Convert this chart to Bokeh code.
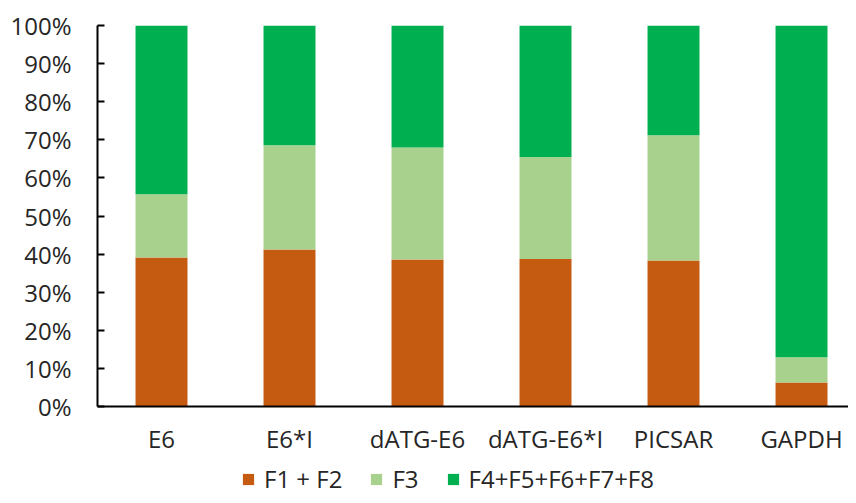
from bokeh.plotting import figure
from bokeh.layouts import column
from bokeh.models import ColumnDataSource, Range1d, FixedTicker, NumeralTickFormatter, Legend
from bokeh.embed import file_html
from bokeh.resources import INLINE

categories = ["E6", "E6*I", "dATG-E6", "dATG-E6*I", "PICSAR", "GAPDH"]
f1_f2 = [0.391, 0.412, 0.386, 0.387, 0.383, 0.063]
f3 = [0.166, 0.274, 0.294, 0.268, 0.329, 0.066]
f4_f8 = [round(1 - a - b, 3) for a, b in zip(f1_f2, f3)]
series_names = ["F1 + F2", "F3", "F4+F5+F6+F7+F8"]
series_colors = ["#C55A11", "#A9D18E", "#00B050"]
y_ticks = [0, 0.1, 0.2, 0.3, 0.4, 0.5, 0.6, 0.7, 0.8, 0.9, 1.0]

FONT = "Open Sans"
TXT = "#262626"

xs = list(range(len(categories)))
source = ColumnDataSource(dict(x=xs, f12=f1_f2, f3=f3, f48=f4_f8))

p = figure(width=848, height=457, output_backend="svg", toolbar_location=None,
           x_range=Range1d(-0.5, 5.367), y_range=Range1d(0, 1),
           min_border_left=97, min_border_right=0, min_border_top=25, min_border_bottom=51)

p.vbar_stack(["f12", "f3", "f48"], x="x", width=0.406, source=source,
             color=series_colors, line_color=None)

p.xgrid.visible = False
p.ygrid.visible = False
p.outline_line_color = None

# x axis
p.xaxis.ticker = FixedTicker(ticks=xs)
p.xaxis.major_label_overrides = {i: c for i, c in enumerate(categories)}
p.xaxis.major_tick_line_color = None
p.xaxis.minor_tick_line_color = None
p.xaxis.major_tick_out = 0
p.xaxis.major_tick_in = 0
p.xaxis.axis_line_color = "black"
p.xaxis.axis_line_width = 2
p.xaxis.major_label_standoff = 15
p.xaxis.major_label_text_font = FONT
p.xaxis.major_label_text_font_size = "24px"
p.xaxis.major_label_text_color = TXT

# y axis
p.yaxis.ticker = FixedTicker(ticks=y_ticks)
p.yaxis.formatter = NumeralTickFormatter(format="0%")
p.yaxis.minor_tick_line_color = None
p.yaxis.major_tick_in = 7
p.yaxis.major_tick_out = 0
p.yaxis.major_tick_line_color = "black"
p.yaxis.major_tick_line_width = 2
p.yaxis.axis_line_color = "black"
p.yaxis.axis_line_width = 2
p.yaxis.major_label_standoff = 26
p.yaxis.major_label_text_font = FONT
p.yaxis.major_label_text_font_size = "24px"
p.yaxis.major_label_text_color = TXT

# legend strip below the chart (frame is aligned with the chart's frame)
lf = figure(width=848, height=38, output_backend="svg", toolbar_location=None,
            x_range=Range1d(0, 1), y_range=Range1d(0, 1),
            x_axis_type=None, y_axis_type=None,
            min_border_left=97, min_border_right=0, min_border_top=0, min_border_bottom=0)
lf.outline_line_color = None
lf.grid.visible = False
dummy = [lf.vbar(x=[0.5], top=[0], bottom=[0], width=0.01, color=c, line_color=None)
         for c in series_colors]

lg = Legend(items=[(n, [r]) for n, r in zip(series_names, dummy)],
            orientation="horizontal", location=(144, 0))
lg.border_line_color = None
lg.background_fill_alpha = 0
lg.padding = 0
lg.margin = 0
lg.spacing = 27
lg.glyph_width = 14
lg.glyph_height = 14
lg.label_standoff = 9
lg.label_text_font = FONT
lg.label_text_font_size = "24px"
lg.label_text_color = TXT
lf.add_layout(lg, "center")

layout = column(p, lf, spacing=0)
open("out.html", "w").write(file_html(layout, INLINE))
